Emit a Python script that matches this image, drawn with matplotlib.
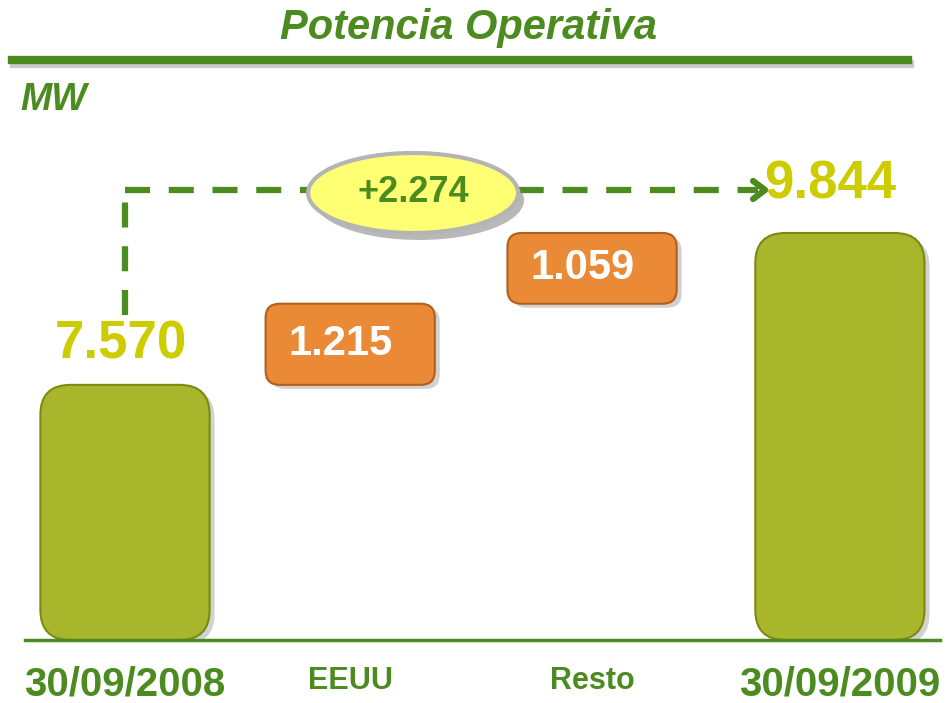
import numpy as np
import matplotlib
matplotlib.use("Agg")
import matplotlib.pyplot as plt
from matplotlib.patches import FancyBboxPatch, Ellipse

plt.rcParams['font.family'] = ['Liberation Sans', 'DejaVu Sans']

# data (MW)
categories = ['30/09/2008', 'EEUU', 'Resto', '30/09/2009']
start_val = 7570
increments = [1215, 1059]
end_val = 9844
total_change = 2274
value_labels = ['7.570', '1.215', '1.059', '9.844']
change_label = '+2.274'

GREEN = '#4b8b1f'
OLIVE = '#a8b62c'
OLIVE_EDGE = '#7d8a10'
ORANGE = '#ea8a36'
ORANGE_EDGE = '#b0601c'
YELLOW_TXT = '#cccc00'

# waterfall geometry
bottoms = [0, start_val, start_val + increments[0], 0]
tops = [start_val, start_val + increments[0], end_val, end_val]
kinds = ['total', 'delta', 'delta', 'total']
xs = np.array([0, 0.945, 1.96, 3.0])  # slide positions of the columns

fig = plt.figure(figsize=(9.46, 7.03), dpi=100)
ax = fig.add_axes([0, 63 / 703, 1, 510 / 703])
y0 = 3750
ax.set_xlim(-125 / 238.3, (946 - 125) / 238.3)
ax.set_ylim(y0, 11386)
for s in ax.spines.values():
    s.set_visible(False)
ax.tick_params(left=False, bottom=False, labelleft=False)

# data units per pixel, for rounding corners
xpp = 1 / 238.3
ypp = (11386 - y0) / 510
aspect = ypp / xpp

bw = 0.71
for x, b, t, k in zip(xs, bottoms, tops, kinds):
    b = max(b, y0)
    if k == 'total':
        fc, ec, r = OLIVE, OLIVE_EDGE, 30 * xpp
    else:
        fc, ec, r = ORANGE, ORANGE_EDGE, 14 * xpp
    # shadow
    sh = FancyBboxPatch((x - bw / 2 + 5 * xpp, b - 4 * ypp), bw, t - b,
                        boxstyle=f"round,pad=0,rounding_size={r}",
                        mutation_aspect=aspect, fc='#000000', ec='none',
                        alpha=0.18, zorder=2)
    ax.add_patch(sh)
    p = FancyBboxPatch((x - bw / 2, b), bw, t - b,
                       boxstyle=f"round,pad=0,rounding_size={r}",
                       mutation_aspect=aspect, fc=fc, ec=ec, lw=1.5, zorder=3)
    ax.add_patch(p)

# value labels
ax.annotate(value_labels[0], (xs[0], tops[0]), xytext=(-3, 11), textcoords='offset points',
            ha='center', va='bottom', fontsize=38, fontweight='bold', color=YELLOW_TXT, zorder=5)
ax.annotate(value_labels[3], (xs[3], tops[3]), xytext=(-7, 17), textcoords='offset points',
            ha='center', va='bottom', fontsize=38, fontweight='bold', color=YELLOW_TXT, zorder=5)
for i in (1, 2):
    ax.text(xs[i] - 0.04, (bottoms[i] + tops[i]) / 2, value_labels[i], ha='center', va='center',
            fontsize=30, fontweight='bold', color='white', zorder=5)

# dashed connector with arrow
y_line = end_val + 644
y_vert0 = start_val + 1046
x_tip = 2.686
ax.plot([xs[0], xs[0]], [y_vert0, y_line], color=GREEN, lw=4.5, dashes=(4, 3), zorder=1)
ax.plot([xs[0], x_tip - 0.03], [y_line, y_line], color=GREEN, lw=4.5, dashes=(4, 3), zorder=1)
ax.plot([x_tip - 12 * xpp, x_tip, x_tip - 12 * xpp], [y_line + 9 * ypp, y_line, y_line - 9 * ypp],
        color=GREEN, lw=4.5, solid_capstyle='round', solid_joinstyle='round', zorder=1)

# ellipse with total change
ex, ey = 1.209, 10443
ew, eh = 210 * xpp, 80 * ypp
ax.add_patch(Ellipse((ex + 6 * xpp, ey - 7 * ypp), ew, eh, fc='#8a8a8a', ec='none', alpha=0.6, zorder=6))
ax.add_patch(Ellipse((ex, ey), ew, eh, fc='#ffff73', ec='#b4b4b4', lw=3, zorder=7))
ax.text(ex, ey, change_label, ha='center', va='center', fontsize=26, fontweight='bold',
        color=GREEN, zorder=8)

# ground line
ax.axhline(y0, xmin=25 / 946, xmax=940 / 946, color=GREEN, lw=2.5, clip_on=False, zorder=4)

# category labels
ax.set_xticks(xs)
ax.set_xticklabels(categories, fontweight='bold', color=GREEN)
ax.tick_params(axis='x', pad=15)
sizes = [29, 22, 22, 29]
for lab, s in zip(ax.get_xticklabels(), sizes):
    lab.set_fontsize(s)

# header
fig.text(0.495, 1 - 28 / 703, 'Potencia Operativa', ha='center', va='center',
         fontsize=30, fontweight='bold', style='italic', color=GREEN)
fig.add_artist(plt.Line2D([14 / 946, 910 / 946], [1 - 64 / 703] * 2, color='#9a9a9a',
                          lw=6, alpha=0.5))
fig.add_artist(plt.Line2D([12 / 946, 908 / 946], [1 - 60 / 703] * 2, color=GREEN, lw=6))
fig.text(20 / 946, 1 - 100 / 703, 'MW', ha='left', va='center',
         fontsize=27, fontweight='bold', style='italic', color=GREEN)

fig.savefig('out.png', dpi=100, facecolor='white')
